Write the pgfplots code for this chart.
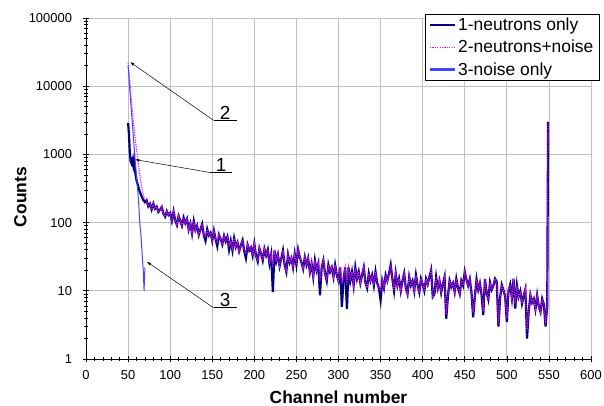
\documentclass[border=0pt]{standalone}
\usepackage{pgfplots}
\pgfplotsset{compat=1.18}
\usepackage{pgfplotstable}
\usepackage{fontspec}
\setmainfont{Liberation Sans}
\usetikzlibrary{arrows.meta}
\definecolor{navyc}{RGB}{0,0,128}
\definecolor{magc}{RGB}{255,0,255}
\definecolor{bluec}{RGB}{70,70,255}
\definecolor{gridc}{RGB}{192,192,192}

\pgfplotstableread{
x y1 y2
50 2900 22000
51 2000 16000
52 1100 12000
53 800 8500
54 740 6000
55 820 4500
56 700 3200
57 850 2500
58 600 1900
59 500 1500
60 420 1200
62 340 750
64 280 500
66 245 340
68 215 260
70 200 215
72 213 213
74 173 173
76 189 189
78 156 156
80 190 190
82 160 160
84 171 171
86 143 143
88 155 155
90 169 169
92 135 135
94 122 122
96 147 147
98 129 129
100 138 138
102 106 106
104 146 146
106 108 108
108 92 92
110 125 125
112 107 107
114 90 90
116 118 118
118 98 98
120 113 113
122 79 79
124 97 97
126 69 69
128 105 105
130 78 78
132 90 90
134 66 66
136 80 80
138 95 95
140 65 65
142 54 62
144 80 80
146 65 65
148 71 71
150 54 54
152 76 76
154 57 57
156 45 52
158 66 66
160 57 57
162 48 48
164 64 64
166 53 53
168 62 62
170 40 46
172 54 54
174 39 39
176 59 59
178 44 44
180 51 51
182 38 38
184 46 46
186 55 55
188 38 38
190 30 35
192 47 47
194 39 39
196 43 43
198 33 33
200 49 49
202 33 33
204 27 27
206 42 42
208 35 35
210 28 28
212 41 41
214 33 33
216 40 40
218 25 25
220 34 34
222 9.6 22
224 39 39
226 27 27
228 34 34
230 23 23
232 30 30
234 39 39
236 24 24
238 19 19
240 34 34
242 26 26
244 30 30
246 22 22
248 35 35
250 24 24
252 40 40
254 31 31
256 26 26
258 21 21
260 31 31
262 24 24
264 30 30
266 19 19
268 25 25
270 16 16
272 28 28
274 20 20
276 25 25
278 8.6 15
280 22 22
282 28 28
284 18 18
286 14 14
288 24 24
290 19 19
292 22 22
294 16 16
296 24 24
298 17 17
300 14 14
302 22 22
304 5.8 13
306 15 15
308 22 22
310 5.4 12
312 22 22
314 14 14
316 19 19
318 12 12
320 22 22
322 15 15
324 19 19
326 13 13
328 17 17
330 22 22
332 13 13
334 11 11
336 18 18
338 14 14
340 17 17
342 12 12
344 19 19
346 13 13
348 11 11
350 7.3 10
352 14 14
354 11 11
356 17 17
358 14 14
360 18 18
362 24 24
364 15 15
366 10 10
368 18 18
370 12 12
372 15 15
374 10 10
376 14 14
378 18 18
380 11 11
382 9 9
384 16 16
386 12 12
388 14 14
390 10 10
392 17 17
394 12 12
396 9.5 9.5
398 15 15
400 12.5 12.5
402 10 10
404 15 15
406 12.5 12.5
408 16 16
410 20 20
412 8.2 8.2
414 9 9
416 16 16
418 11 11
420 14 14
422 9.4 9.4
424 12.6 12.6
426 16 16
428 3.9 4.5
430 8.2 8.2
432 14 14
434 11.4 11.4
436 13 13
438 9.6 9.6
440 15 15
442 11 11
444 9 9
446 14 14
448 12 12
450 19 19
452 14.6 14.6
454 11.9 11.9
456 14.8 14.8
458 9.4 9.4
460 4.1 4.8
462 8.2 8.2
464 14.7 14.7
466 10.3 10.3
468 12.8 12.8
470 8.6 8.6
472 4.4 5
474 14.9 14.9
476 9.4 9.4
478 7.5 7.5
480 13.2 13.2
482 10.4 10.4
484 11.9 11.9
486 15 15
488 13.6 13.6
490 3 3.3
492 7.8 7.8
494 12.2 12.2
496 10.2 10.2
498 8.3 8.3
500 3.5 4
502 9.9 9.9
504 12.3 12.3
506 7.8 7.8
508 15 15
510 5.5 6.5
512 12 12
514 8.2 8.2
516 9.9 9.9
518 6.5 6.5
520 8.4 8.4
522 10.5 10.5
524 2.0 2.6
526 5 5
528 8.6 8.6
530 6.7 6.7
532 7.6 7.6
534 5.4 5.4
536 8.6 8.6
538 5.9 5.9
540 4.9 4.9
542 7.6 7.6
544 6.3 6.3
546 3 3.3
548 6 6
549 3000 3000
}\spectrum

\begin{document}
\begin{tikzpicture}
\begin{axis}[name=ax, scale only axis, width=505bp, height=341bp,
  ymode=log, xmin=0, xmax=600, ymin=1, ymax=100000,
  axis lines=left, axis line style={-, black, line width=0.8bp},
  xtick={0,50,...,600}, minor x tick num=4,
  ytick={1,10,100,1000,10000,100000},
  yticklabels={1,10,100,1000,10000,100000},
  minor ytick={2,3,4,5,6,7,8,9,20,30,40,50,60,70,80,90,200,300,400,500,600,700,800,900,2000,3000,4000,5000,6000,7000,8000,9000,20000,30000,40000,50000,60000,70000,80000,90000},
  grid=major, major grid style={gridc, line width=0.8bp},
  tick align=center, major tick length=7bp, minor tick length=3.5bp,
  tick style={black, line width=0.6bp},
  /pgf/number format/assume math mode=true,
  ticklabel style={font=\fontsize{13}{15}\selectfont},
  xticklabel style={yshift=-4bp},
  yticklabel style={xshift=-7bp},
  xlabel={Channel number}, ylabel={Counts},
  label style={font=\fontsize{17.5}{20}\selectfont\bfseries},
  xlabel style={at={(axis description cs:0.5,-0.111)}, anchor=center},
  ylabel style={at={(axis description cs:-0.13,0.475)}, anchor=center},
  legend style={at={(rel axis cs:1.017,1.0117)}, anchor=north east,
    font=\fontsize{17.5}{21}\selectfont, inner xsep=4bp, inner ysep=2bp, row sep=4bp},
  legend cell align=left,
  legend image code/.code={\draw[#1] (0bp,0bp) -- (25bp,0bp);},
]
\addplot[navyc, line width=2.2bp, forget plot] table[x=x,y=y1]{\spectrum};
\addplot[magc, line width=1.1bp, dash pattern=on 1.2bp off 1.2bp, forget plot] table[x=x,y=y2]{\spectrum};
\addplot[bluec, line width=1bp, forget plot] coordinates {(50,20000)(51,14000)(52,9000)(53,6200)(54,4200)(55,2900)(56,2000)(57,1400)(58,950)(59,680)(60,480)(61,340)(62,240)(63,160)(64,95)(65,72)(66,48)(67,30)(68,20)(69,10)(70,22)};

\addlegendimage{draw=navyc, line width=1.8bp}
\addlegendentry{1-neutrons only}
\addlegendimage{draw=magc, line width=1.1bp, dash pattern=on 1.2bp off 1.2bp}
\addlegendentry{2-neutrons+noise}
\addlegendimage{draw=bluec, solid, line width=2.2bp}
\addlegendentry{3-noise only}

\draw[black, line width=0.5bp, -{Latex[length=4bp,width=3bp]}] (axis cs:151.5,3160) -- (axis cs:52.6,22500);
\draw[black, line width=0.6bp] (axis cs:151.5,3160) -- (axis cs:179.3,3160);
\node[anchor=south, font=\fontsize{19}{19}\selectfont, inner sep=1bp] at (axis cs:165.4,3160) {2};

\draw[black, line width=0.5bp, -{Latex[length=4bp,width=3bp]}] (axis cs:147.6,542) -- (axis cs:58.6,839);
\draw[black, line width=0.6bp] (axis cs:147.6,542) -- (axis cs:173.4,542);
\node[anchor=south, font=\fontsize{19}{19}\selectfont, inner sep=1bp] at (axis cs:160.5,542) {1};

\draw[black, line width=0.5bp, -{Latex[length=4bp,width=3bp]}] (axis cs:151.5,5.64) -- (axis cs:72.4,26.6);
\draw[black, line width=0.6bp] (axis cs:151.5,5.64) -- (axis cs:179.3,5.64);
\node[anchor=south, font=\fontsize{19}{19}\selectfont, inner sep=1bp] at (axis cs:165.4,5.64) {3};
\end{axis}
\pgfresetboundingbox
\path[use as bounding box] ([xshift=-86bp,yshift=-47bp]ax.south west) rectangle ([xshift=13bp,yshift=18bp]ax.north east);
\end{tikzpicture}
\end{document}
